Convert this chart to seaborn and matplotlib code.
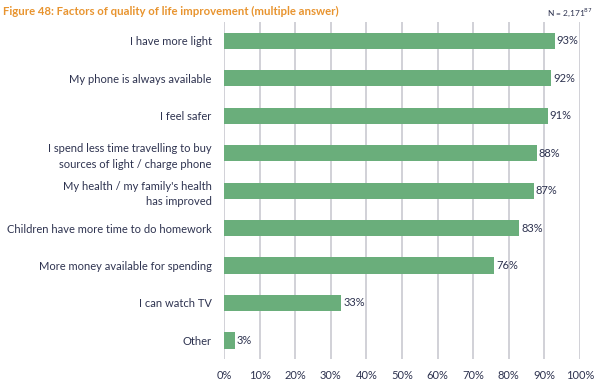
import pandas as pd
import seaborn as sns
import matplotlib.pyplot as plt
import matplotlib

plt.rcParams['font.family'] = ['Lato', 'DejaVu Sans']

# data
factors = [
    'I have more light',
    'My phone is always available',
    'I feel safer',
    'I spend less time travelling to buy\nsources of light / charge phone',
    "My health / my family's health\nhas improved",
    'Children have more time to do homework',
    'More money available for spending',
    'I can watch TV',
    'Other',
]
shares = [93, 92, 91, 88, 87, 83, 76, 33, 3]

bar_color = '#6aae7b'
text_color = '#2e3350'
grid_color = '#c9c9d1'

df = pd.DataFrame({'Factor': factors, 'Share': shares})

fig = plt.figure(figsize=(5.99, 3.85), dpi=100)
ax = fig.add_axes([0.374, 0.067, 0.594, 0.876])

sns.barplot(data=df, y='Factor', x='Share', color=bar_color, width=0.43,
            saturation=1, ax=ax, zorder=2)

ax.set_xlim(0, 100)
ax.set_xticks(range(0, 101, 10))
ax.set_xticklabels([f'{t}%' for t in range(0, 101, 10)], fontsize=8, color=text_color)
ax.set_yticks(range(len(factors)))
ax.set_yticklabels(factors, fontsize=8, color=text_color, linespacing=1.5)
ax.tick_params(axis='x', length=0, pad=8)
ax.tick_params(axis='y', length=0, pad=9)
ax.set_xlabel('')
ax.set_ylabel('')
ax.grid(axis='x', color=grid_color, linewidth=1.2, zorder=0)
ax.set_axisbelow(True)
for s in ax.spines.values():
    s.set_visible(False)

for i, v in enumerate(shares):
    ax.text(v + 0.5, i, f'{v}%', va='center', ha='left', fontsize=8, color=text_color)

fig.text(0.005, 0.985, 'Figure 48: Factors of quality of life improvement (multiple answer)',
         ha='left', va='top', fontsize=8.2, fontweight='bold', color='#e8942f')
fig.text(0.99, 0.982, 'N = 2,171$^{87}$', ha='right', va='top', fontsize=6, color=text_color)

fig.savefig('out.png', dpi=100)
